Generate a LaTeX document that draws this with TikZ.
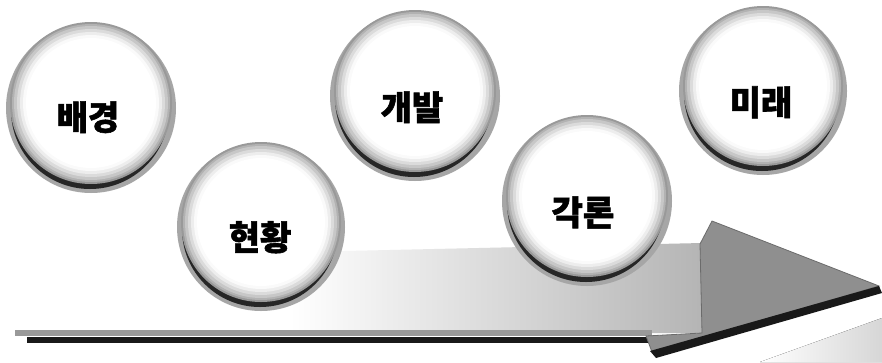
\documentclass[tikz,border=0pt]{standalone}
\usepackage{fontspec}
\newfontfamily\kr[BoldFeatures={FakeBold=1.6}]{Noto Sans CJK KR}
\usetikzlibrary{calc}
\pgfdeclarehorizontalshading{armbody}{100bp}{color(0bp)=(white); color(45bp)=(white); color(82bp)=(black!36); color(100bp)=(black!45)}
\tikzset{
  ball/.style={circle, inner sep=0pt, fill=black!40},
  lbl/.style={font=\kr\bfseries\fontsize{34}{34}\selectfont, inner sep=0pt, anchor=base},
  halo/.style={fill=black!35},
  dark/.style={fill=black!85},
}
\begin{document}
\begin{tikzpicture}[x=1pt,y=-1pt]
\useasboundingbox (0,0) rectangle (882,362);
\fill[white] (0,0) rectangle (882,362);
% faint shadow bottom right
\fill[left color=white, right color=black!16] (760,362) -- (882,318) -- (882,362) -- cycle;
% arrow body (top face)
\path[shading=armbody] (300,252) -- (702,243) -- (702,333) -- (15,333) -- cycle;
% bottom band
\fill[black!40] (15,330) rectangle (652,336);
\fill[black!90] (27,337) rectangle (652,343);
% arrow head
\fill[black!44, draw=black!58, line width=0.8pt] (700,244) -- (712,221) -- (879,286) -- (652,352) -- (646,336) -- (702,333) -- cycle;
\fill[black!90] (879,286) -- (882,293) -- (656,358) -- (650,351) -- cycle;
% spheres
\foreach \n/\x/\y/\r in {b1/91/106/85, b2/261/225/84, b3/415/94/85, b4/587/199/85, b5/763/89/84}{
  \pgfmathsetmacro{\rh}{\r}
  \pgfmathsetmacro{\rd}{\r-6}
  \pgfmathsetmacro{\rb}{2*(\r-4)}
  \coordinate (\n c) at (\x,\y);
  \fill[halo] ($(\n c)+(0,2)$) circle (\rh pt);
  \fill[dark] ($(\n c)+(-1,4)$) circle (\rd pt);
  \node[ball, minimum size=\rb pt] (\n) at ($(\n c)+(0,-3)$) {};
  \foreach \k/\g in {2/30, 4/22, 7/14, 10/7, 13/2, 16/0}{
    \pgfmathsetmacro{\rr}{\r-4-\k}
    \fill[black!\g] (\n) circle (\rr pt);
  }
}
\node[lbl] (t1) at (88,130) {배경};
\node[lbl] (t2) at (260,250) {현황};
\node[lbl] (t3) at (412,120) {개발};
\node[lbl] (t4) at (583,225) {각론};
\node[lbl] (t5) at (761,115) {미래};
\end{tikzpicture}
\end{document}
